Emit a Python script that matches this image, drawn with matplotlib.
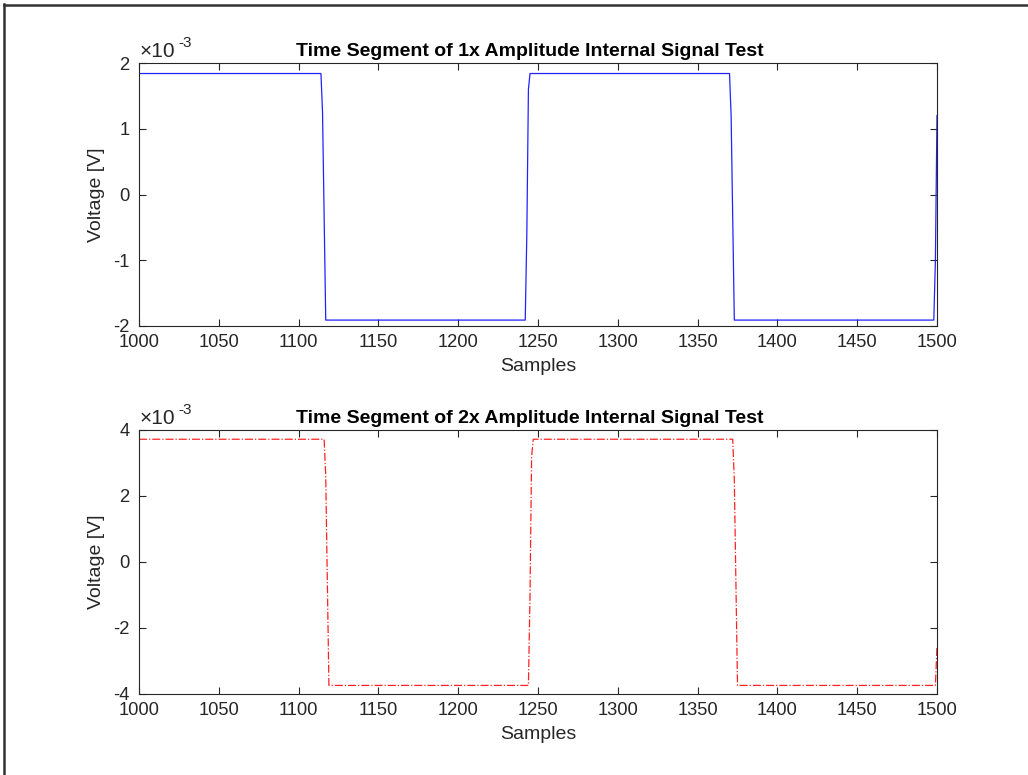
import matplotlib
matplotlib.use("Agg")
import matplotlib.pyplot as plt
from matplotlib.lines import Line2D

plt.rcParams['font.family'] = ['Liberation Sans', 'DejaVu Sans']

# Vertices of the sampled waveforms (sample index, voltage)
x_1x = [1000, 1114, 1115, 1117, 1242, 1243, 1244, 1245, 1370, 1371, 1373, 1498, 1499, 1500]
y_1x = [1.84e-3, 1.84e-3, 1.25e-3, -1.91e-3, -1.91e-3, -0.6e-3, 1.6e-3, 1.84e-3,
        1.84e-3, 1.2e-3, -1.91e-3, -1.91e-3, -1.0e-3, 1.2e-3]

x_2x = [1000, 1116, 1117, 1119, 1244, 1245, 1246, 1247, 1372, 1373, 1375, 1499, 1500]
y_2x = [3.72e-3, 3.72e-3, 2.6e-3, -3.74e-3, -3.74e-3, -1.0e-3, 3.2e-3, 3.72e-3,
        3.72e-3, 2.5e-3, -3.74e-3, -3.74e-3, -2.55e-3]

xticks = [1000, 1050, 1100, 1150, 1200, 1250, 1300, 1350, 1400, 1450, 1500]
yticks_1x = [-2e-3, -1e-3, 0, 1e-3, 2e-3]
yticks_2x = [-4e-3, -2e-3, 0, 2e-3, 4e-3]

titles = ["Time Segment of 1x Amplitude Internal Signal Test",
          "Time Segment of 2x Amplitude Internal Signal Test"]

fig = plt.figure(figsize=(10.28, 7.75), dpi=100)

W, H = 1028, 775
def pos(l, t, r, b):
    return [l / W, 1 - b / H, (r - l) / W, (b - t) / H]

ax1 = fig.add_axes(pos(139, 63, 937, 326))
ax2 = fig.add_axes(pos(139, 430, 937, 694))

axc = '#262626'
fs = 13.2
fl = 14.0

def style(ax, yticks, ylim, title):
    ax.set_xlim(1000, 1500)
    ax.set_ylim(*ylim)
    ax.set_xticks(xticks)
    ax.set_xticklabels([str(v) for v in xticks])
    ax.set_yticks(yticks)
    ax.set_yticklabels([f"{v*1e3:g}" for v in yticks])
    ax.tick_params(direction='in', top=True, right=True, length=5, width=0.8,
                   color=axc, labelcolor=axc, labelsize=fs)
    ax.tick_params(axis='x', pad=6)
    ax.tick_params(axis='y', pad=7)
    for s in ax.spines.values():
        s.set_color(axc)
        s.set_linewidth(0.8)
    ax.set_xlabel("Samples", fontsize=fl, color=axc, labelpad=5)
    ax.set_ylabel("Voltage [V]", fontsize=fl, color=axc, labelpad=6)
    ax.set_title(title, fontsize=fl, fontweight='bold', pad=5, x=0.49)
    ax.text(0.001, 1.008, "\u00d710", transform=ax.transAxes,
            fontsize=15, color=axc, ha='left', va='bottom')
    ax.text(0.049, 1.05, "-3", transform=ax.transAxes,
            fontsize=11, color=axc, ha='left', va='bottom')

ax1.plot(x_1x, y_1x, color='#2222ff', lw=0.9)
ax2.plot(x_2x, y_2x, color='#ff2222', lw=0.9, ls='-.')

style(ax1, yticks_1x, (-2e-3, 2e-3), titles[0])
style(ax2, yticks_2x, (-4e-3, 4e-3), titles[1])

# frame lines (left and top edges of the screenshot)
fig.add_artist(Line2D([4 / W, 4 / W], [0, 1 - 4 / H], transform=fig.transFigure, color='#333333', lw=1.8))
fig.add_artist(Line2D([4 / W, 1], [1 - 5 / H, 1 - 5 / H], transform=fig.transFigure, color='#333333', lw=1.8))

fig.savefig("out.png", dpi=100)
